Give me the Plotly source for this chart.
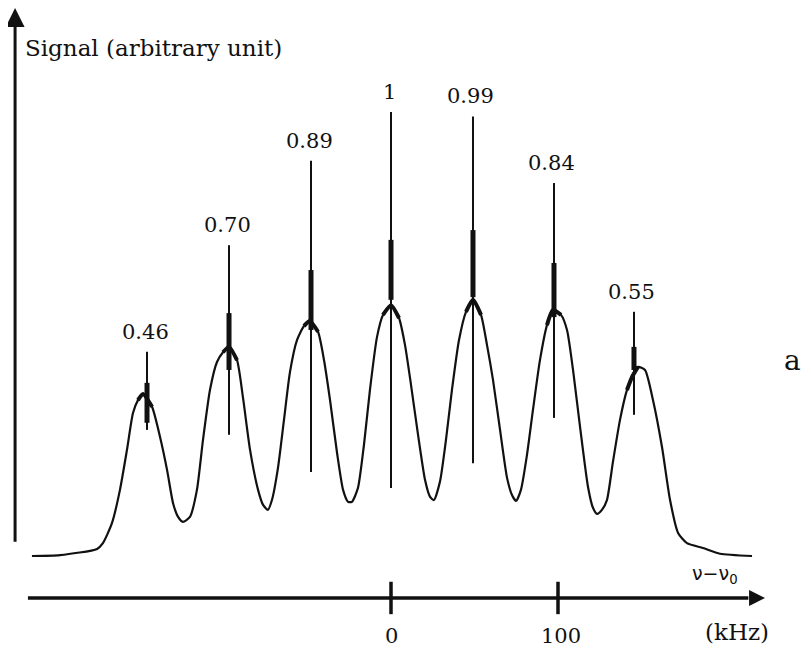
import plotly.graph_objects as go

# ---- data ----
# broad envelope of the spectrum: frequency offset (kHz) and signal (arb. unit)
env_khz = [-215.0, -198.2, -176.0, -172.5, -167.1, -162.3, -158.1, -154.5, -151.5, -148.5,
           -143.1, -138.3, -134.1, -130.5, -127.5, -124.6, -120.4, -116.2, -112.6, -108.4,
           -104.2, -100.6, -97.0, -92.2, -88.6, -84.4, -79.6, -76.6, -73.7, -71.3,
           -67.7, -64.1, -60.5, -56.3, -52.1, -48.5, -43.7, -40.1, -36.5, -32.3,
           -28.7, -25.7, -23.4, -19.8, -16.2, -12.6, -8.4, -4.8, 0.0, 4.8,
           8.4, 12.0, 16.2, 20.4, 23.4, 25.7, 29.3, 32.9, 36.5, 40.7,
           44.9, 49.1, 53.9, 57.5, 61.1, 65.3, 69.5, 72.5, 74.9, 77.8,
           81.4, 85.0, 89.2, 93.4, 97.0, 101.8, 105.4, 109.0, 113.2, 118.0,
           121.0, 123.4, 126.3, 129.3, 132.9, 137.1, 141.3, 144.3, 147.9, 152.1,
           156.9, 162.3, 167.1, 171.9, 177.2, 186.8, 197.0, 216.2]
env_sig = [0.000, 0.002, 0.016, 0.029, 0.074, 0.149, 0.239, 0.322, 0.351, 0.365,
           0.336, 0.268, 0.194, 0.119, 0.088, 0.077, 0.088, 0.149, 0.261, 0.374,
           0.437, 0.459, 0.471, 0.441, 0.356, 0.239, 0.149, 0.115, 0.104, 0.126,
           0.198, 0.306, 0.414, 0.486, 0.518, 0.529, 0.505, 0.441, 0.351, 0.232,
           0.149, 0.122, 0.122, 0.153, 0.250, 0.374, 0.493, 0.543, 0.565, 0.536,
           0.475, 0.385, 0.273, 0.171, 0.133, 0.126, 0.167, 0.261, 0.374, 0.486,
           0.550, 0.577, 0.543, 0.475, 0.396, 0.284, 0.176, 0.137, 0.124, 0.149,
           0.227, 0.329, 0.441, 0.520, 0.554, 0.543, 0.509, 0.419, 0.291, 0.155,
           0.108, 0.095, 0.104, 0.126, 0.212, 0.306, 0.374, 0.403, 0.426, 0.419,
           0.351, 0.245, 0.126, 0.052, 0.029, 0.018, 0.005, 0.000]

# narrow resonances
peak_khz = [-146.1, -97.0, -47.9, 0.0, 49.1, 97.6, 145.5]
peak_heights = [0.46, 0.70, 0.89, 1.00, 0.99, 0.84, 0.55]
peak_labels = ["0.46", "0.70", "0.89", "1", "0.99", "0.84", "0.55"]
spike_floor = [0.284, 0.273, 0.189, 0.153, 0.209, 0.311, 0.318]
dense_low = [0.300, 0.419, 0.509, 0.577, 0.583, 0.538, 0.419]
dense_high = [0.390, 0.547, 0.644, 0.712, 0.734, 0.660, 0.471]

tick_khz = [0, 100]
tick_labels = ["0", "100"]

# ---- figure ----
BLACK = "#111111"
SERIF = "DejaVu Serif"
fig = go.Figure()

fig.add_trace(go.Scatter(x=env_khz, y=env_sig, mode="lines",
                         line=dict(color=BLACK, width=2.2, shape="spline", smoothing=0.6),
                         hoverinfo="skip"))

# noisy, thickened caps on top of each broad peak
cx, cy = [], []
for k in peak_khz:
    for xv, yv in zip(env_khz, env_sig):
        if abs(xv - k) <= 6.0:
            cx.append(xv)
            cy.append(yv)
    cx.append(None)
    cy.append(None)
fig.add_trace(go.Scatter(x=cx, y=cy, mode="lines",
                         line=dict(color=BLACK, width=4, shape="spline", smoothing=0.6),
                         hoverinfo="skip"))

sx, sy = [], []
for k, lo, hi in zip(peak_khz, spike_floor, peak_heights):
    sx += [k, k, None]
    sy += [lo, hi, None]
fig.add_trace(go.Scatter(x=sx, y=sy, mode="lines",
                         line=dict(color=BLACK, width=2), hoverinfo="skip"))

dx, dy = [], []
for k, lo, hi in zip(peak_khz, dense_low, dense_high):
    dx += [k, k, None]
    dy += [lo, hi, None]
fig.add_trace(go.Scatter(x=dx, y=dy, mode="lines",
                         line=dict(color=BLACK, width=5), hoverinfo="skip"))

# peak value labels
for k, h, t in zip(peak_khz, peak_heights, peak_labels):
    fig.add_annotation(x=k, y=h, text=t, showarrow=False, xshift=-2, yshift=20,
                       font=dict(family=SERIF, size=21, color=BLACK))

# vertical (signal) axis with arrow head
fig.add_shape(type="line", x0=-225.1, x1=-225.1, y0=0.032, y1=1.20,
              line=dict(color=BLACK, width=3))
# horizontal (frequency) axis with arrow head
fig.add_shape(type="line", x0=-217.4, x1=214.0, y0=-0.0946, y1=-0.0946,
              line=dict(color=BLACK, width=3.4))
fig.add_trace(go.Scatter(x=[-225.1], y=[1.234], mode="markers",
                         marker=dict(symbol="arrow-up", size=19, color=BLACK,
                                     line=dict(width=0)), hoverinfo="skip"))
fig.add_trace(go.Scatter(x=[224.0], y=[-0.0946], mode="markers",
                         marker=dict(symbol="arrow-right", size=16, color=BLACK,
                                     line=dict(width=0)), hoverinfo="skip"))

fig.add_annotation(x=-220.4, y=1.144, text="Signal (arbitrary unit)", showarrow=False,
                   xanchor="left", font=dict(family=SERIF, size=23, color=BLACK))

for v, t in zip(tick_khz, tick_labels):
    fig.add_shape(type="line", x0=v, x1=v, y0=-0.058, y1=-0.131,
                  line=dict(color=BLACK, width=3.5))
    fig.add_annotation(x=v, y=-0.180, text=t, showarrow=False, xshift=3 if v else 0,
                       font=dict(family=SERIF, size=21, color=BLACK))

fig.add_annotation(x=207.2, y=-0.171, text="(kHz)", showarrow=False,
                   font=dict(family=SERIF, size=23, color=BLACK))
fig.add_annotation(x=194.0, y=-0.041, text="ν−ν<sub>0</sub>", showarrow=False,
                   font=dict(family="DejaVu Sans", size=19, color=BLACK))
fig.add_annotation(x=240.7, y=0.441, text="a", showarrow=False,
                   font=dict(family=SERIF, size=28, color=BLACK))

# the page body has an 8 px margin, so the figure covers the window minus 8 px
fig.update_layout(
    width=803, height=646, autosize=False,
    margin=dict(l=0, r=0, t=0, b=0),
    paper_bgcolor="white", plot_bgcolor="white",
    showlegend=False,
    xaxis=dict(range=[-229.34, 251.50], visible=False, fixedrange=True),
    yaxis=dict(range=[-0.2207, 1.2342], visible=False, fixedrange=True),
)

fig.write_html("out.html")
